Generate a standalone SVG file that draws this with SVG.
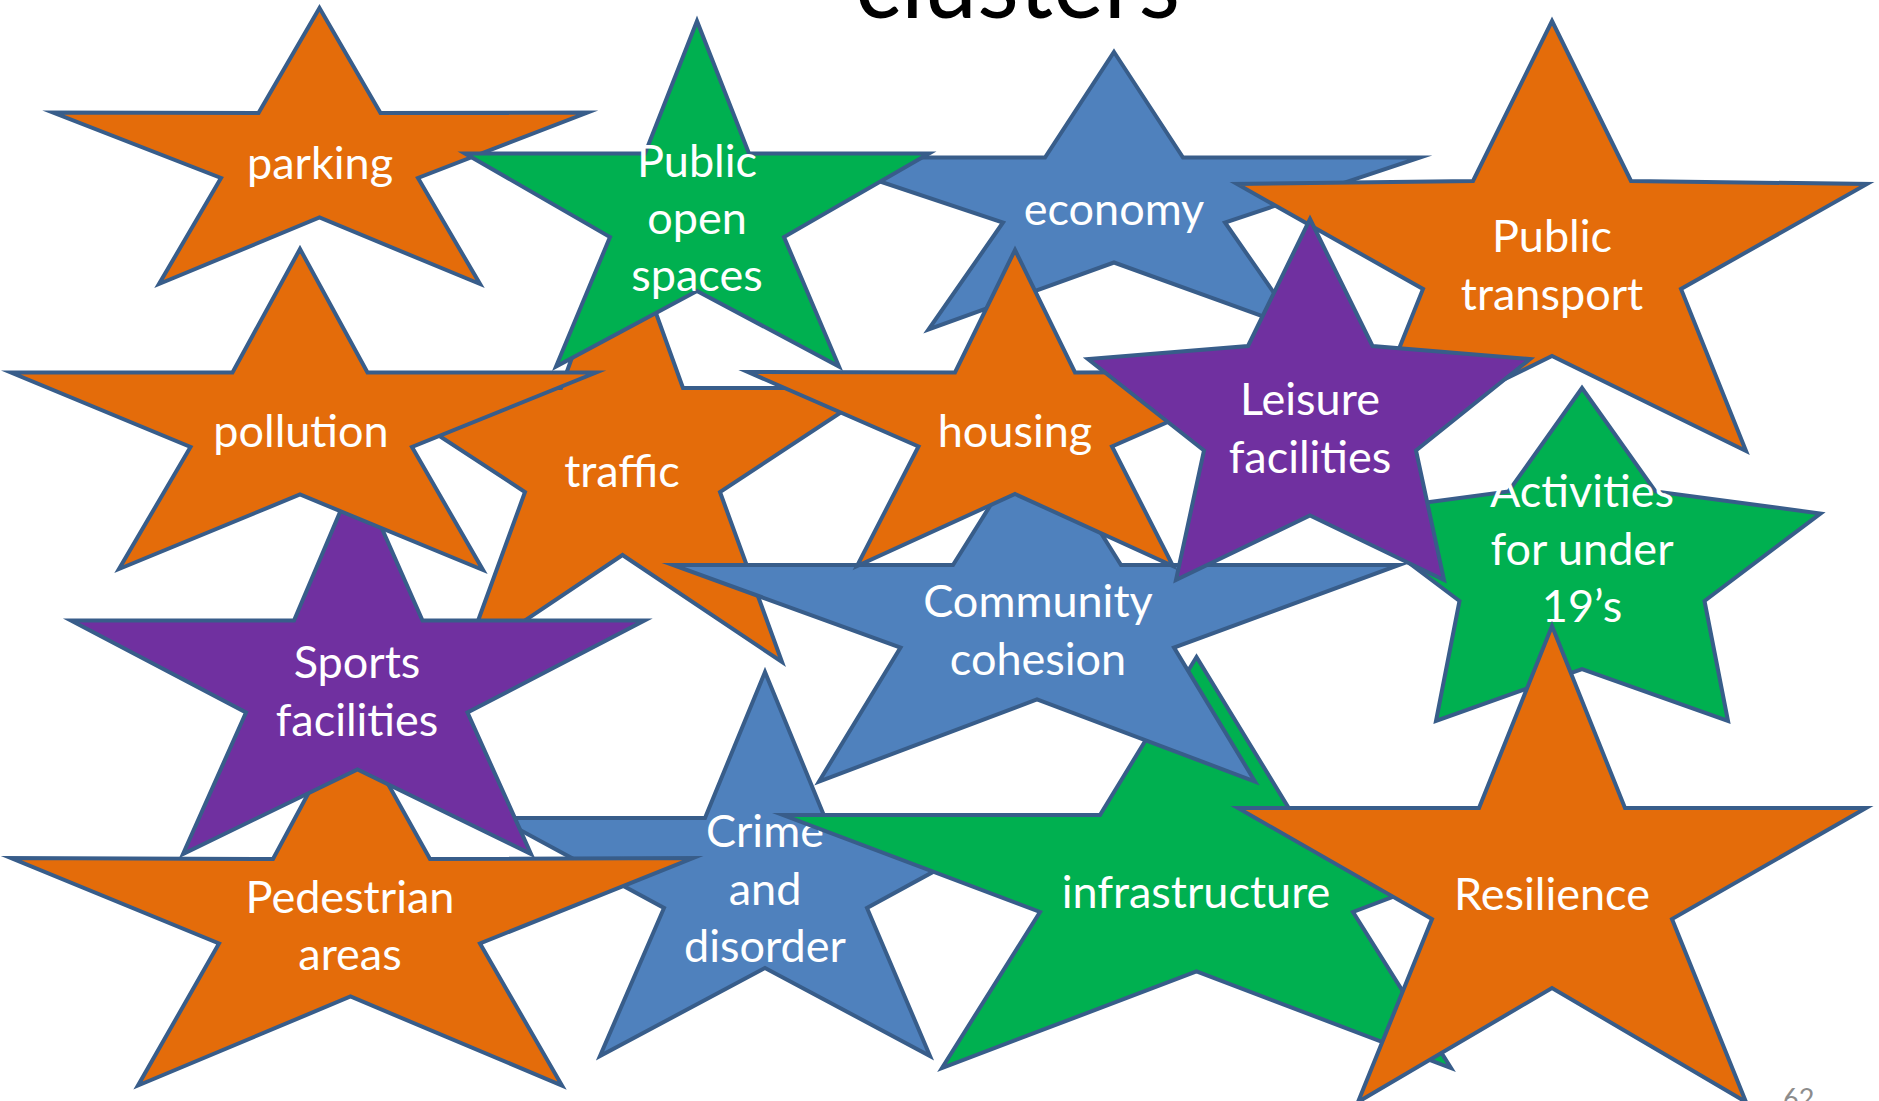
<svg xmlns="http://www.w3.org/2000/svg" width="1879" height="1101" viewBox="0 0 1879 1101">
<style>
.star{stroke:#385D8A;stroke-width:4;stroke-linejoin:miter;stroke-miterlimit:10}
.or{fill:#E46C0A}.gr{fill:#00B050}.bl{fill:#4F81BD}.pu{fill:#7030A0}
.lbl{font-family:Lato,"Open Sans","Liberation Sans",sans-serif;font-size:45px;fill:#FFFFFF;text-anchor:middle}
.title{font-family:Lato,"Open Sans","Liberation Sans",sans-serif;font-size:100px;fill:#000000;text-anchor:middle}
.pg{font-family:Lato,"Open Sans","Liberation Sans",sans-serif;font-size:27px;fill:#8C8C8C}
</style>
<rect width="1879" height="1101" fill="#FFFFFF"/>
<text class="title" x="1017.5" y="17.5" textLength="325" lengthAdjust="spacingAndGlyphs">clusters</text>
<g id="connectors"/>
<g id="parking">
<polygon class="star or" points="319.5,8 380.5,113 587.5,112.5 418,178 480,284 319.5,217.5 159,284 221,178 53,112.5 258.5,113"/>
<text class="lbl" x="320" y="179">parking</text>
</g>
<g id="traffic">
<polygon class="star or" points="622,219 683,388 878,388 720,492 782,662 622.5,555 463,662 525,492 366,388 561,388"/>
<text class="lbl" x="622" y="487">traffic</text>
</g>
<g id="economy">
<polygon class="star bl" points="1114,52 1183,157.5 1420,157.5 1225,222.5 1299.5,329.5 1114,262.5 928.5,329.5 1003,222.5 808,157.5 1045,157.5"/>
<text class="lbl" x="1114" y="225">economy</text>
</g>
<g id="public-open-spaces">
<polygon class="star gr" points="697,21 749,153.5 929,153.5 784,237 839,366.5 697,291 556,366.5 610,237 465,153.5 645,153.5"/>
<text class="lbl" x="697" y="177">Public</text>
<text class="lbl" x="697" y="234">open</text>
<text class="lbl" x="697" y="291">spaces</text>
</g>
<g id="public-transport">
<polygon class="star or" points="1552,21 1631,181 1867,184 1681,289 1746,451 1552,356 1358,451 1423,289 1237,184 1473,181"/>
<text class="lbl" x="1552" y="252">Public</text>
<text class="lbl" x="1552" y="310">transport</text>
</g>
<g id="crime-and-disorder">
<polygon class="star bl" points="765,672 825,818 1032,818 867,908 930,1056 765,968 600,1056 664,908 498,818 705,818"/>
<text class="lbl" x="765" y="847">Crime</text>
<text class="lbl" x="765" y="904.5">and</text>
<text class="lbl" x="765" y="962">disorder</text>
</g>
<g id="infrastructure">
<polygon class="star gr" points="1196.5,657 1293,815 1610,815 1353,912 1451,1068 1196.5,971.5 942,1068 1040,912 783,815 1100,815"/>
<text class="lbl" x="1196" y="908">infrastructure</text>
</g>
<g id="community-cohesion">
<polygon class="star bl" points="1037,431 1121,565 1399,565 1174,647.5 1255,781.5 1037,699.5 819,781.5 900.5,647.5 673,565 953,565"/>
<text class="lbl" x="1038" y="617">Community</text>
<text class="lbl" x="1038" y="674.5">cohesion</text>
</g>
<g id="housing">
<polygon class="star or" points="1015,250 1075,372.5 1282,372 1112,446.5 1173,566 1015,494 857,566 918.5,446.5 748,372 955,372.5"/>
<text class="lbl" x="1015" y="446.5">housing</text>
</g>
<g id="pedestrian-areas">
<polygon class="star or" points="350,716 430,859 693,858 480,943.5 562,1085.5 350.5,996.5 138,1085.5 219,943.5 11,858 273,859"/>
<text class="lbl" x="350" y="913">Pedestrian</text>
<text class="lbl" x="350" y="970">areas</text>
</g>
<g id="sports-facilities">
<polygon class="star pu" points="357,472 422.5,620.5 644.5,620.5 467.5,712.5 531,854 357.5,769.5 183,854 246,712.5 71,620.5 294,620.5"/>
<text class="lbl" x="357" y="678">Sports</text>
<text class="lbl" x="357" y="735.5">facilities</text>
</g>
<g id="pollution">
<polygon class="star or" points="300,249 367.5,372.5 596,372.5 412,447 483,570 300,494.5 119,569 190.5,447 11,372.5 232.5,372.5"/>
<text class="lbl" x="301" y="447">pollution</text>
</g>
<g id="activities-under-19s">
<polygon class="star gr" points="1582,388 1655.5,491.5 1820.5,513.5 1704.5,601 1728,721 1582,669 1436,721 1459.5,601 1343.5,513.5 1508.5,491.5"/>
<text class="lbl" x="1582" y="507">Activities</text>
<text class="lbl" x="1582" y="564.5">for under</text>
<text class="lbl" x="1582" y="622">19’s</text>
</g>
<g id="leisure-facilities">
<polygon class="star pu" points="1310,219 1372.5,346 1530,359 1416,450.5 1444,580 1310,515.5 1176,580 1204,450.5 1088,359 1248,346"/>
<text class="lbl" x="1310" y="415">Leisure</text>
<text class="lbl" x="1310" y="472.5">facilities</text>
</g>
<g id="resilience">
<polygon class="star or" points="1552,626 1625,808 1866,808 1672,919 1746,1102 1552,988 1358,1102 1432,919 1238,808 1479,808"/>
<text class="lbl" x="1552" y="910">Resilience</text>
</g>
<text class="pg" x="1783" y="1108">62</text>
</svg>
